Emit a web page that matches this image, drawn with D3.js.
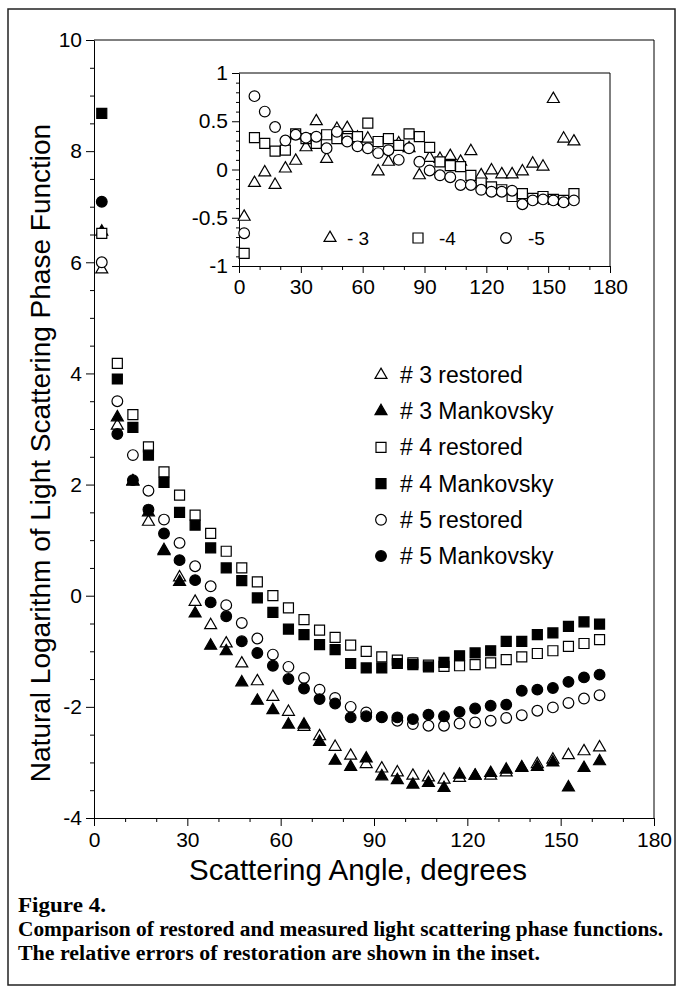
<!DOCTYPE html>
<html>
<head>
<meta charset="utf-8">
<script src="https://cdn.jsdelivr.net/npm/d3@7"></script>
<style>
  body { margin: 0; background: #fff; }
  svg text { font-family: "Liberation Sans", Arial, Helvetica, sans-serif; fill: #000; }
  .caption { font-family: "Liberation Serif", "Times New Roman", serif; font-weight: bold; font-size: 20px; }
</style>
</head>
<body>
<svg id="chart" width="681" height="994"></svg>
<script>
// scattering angles (degrees)
const angles = [2.5, 7.5, 12.5, 17.5, 22.5, 27.5, 32.5, 37.5, 42.5, 47.5, 52.5, 57.5, 62.5, 67.5, 72.5, 77.5,
  82.5, 87.5, 92.5, 97.5, 102.5, 107.5, 112.5, 117.5, 122.5, 127.5, 132.5, 137.5, 142.5, 147.5, 152.5, 157.5, 162.5];

// ln of phase function, main plot
const restored3 = [5.87, 3.06, 2.05, 1.33, 0.82, 0.33, -0.11, -0.53, -0.86, -1.22, -1.54, -1.82, -2.09, -2.36, -2.53, -2.72,
  -2.88, -3.03, -3.11, -3.18, -3.24, -3.27, -3.31, -3.28, -3.24, -3.24, -3.18, -3.10, -3.03, -2.95, -2.87, -2.80, -2.73];
const mank3 = [6.55, 3.21, 2.06, 1.50, 0.80, 0.25, -0.32, -0.90, -1.00, -1.56, -1.89, -2.06, -2.32, -2.32, -2.63, -2.97,
  -3.08, -2.93, -3.25, -3.32, -3.40, -3.37, -3.46, -3.22, -3.24, -3.19, -3.13, -3.09, -3.08, -3.00, -3.45, -3.10, -2.98];
const restored4 = [6.52, 4.18, 3.26, 2.68, 2.23, 1.81, 1.45, 1.12, 0.80, 0.50, 0.25, 0.00, -0.22, -0.43, -0.62, -0.75,
  -0.89, -1.00, -1.10, -1.16, -1.21, -1.25, -1.27, -1.26, -1.24, -1.21, -1.15, -1.10, -1.04, -0.99, -0.91, -0.86, -0.79];
const mank4 = [8.68, 3.90, 3.03, 2.53, 2.04, 1.50, 1.27, 0.86, 0.50, 0.27, -0.04, -0.30, -0.60, -0.70, -0.88, -0.97,
  -1.22, -1.30, -1.30, -1.22, -1.24, -1.28, -1.20, -1.08, -1.03, -0.99, -0.82, -0.82, -0.70, -0.67, -0.55, -0.47, -0.51];
const restored5 = [6.00, 3.50, 2.53, 1.89, 1.37, 0.95, 0.53, 0.17, -0.17, -0.49, -0.77, -1.06, -1.28, -1.48, -1.69, -1.84,
  -2.00, -2.10, -2.18, -2.25, -2.31, -2.34, -2.34, -2.30, -2.28, -2.25, -2.20, -2.15, -2.07, -2.01, -1.93, -1.85, -1.79];
const mank5 = [7.09, 2.91, 2.08, 1.55, 1.12, 0.64, 0.28, -0.12, -0.37, -0.82, -1.03, -1.26, -1.50, -1.67, -1.86, -1.94,
  -2.19, -2.17, -2.19, -2.19, -2.22, -2.14, -2.17, -2.09, -2.03, -1.98, -1.96, -1.71, -1.69, -1.66, -1.55, -1.47, -1.42];

// relative errors, inset
const err3 = [-0.49, -0.14, -0.03, -0.16, 0.01, 0.09, 0.23, 0.50, 0.11, 0.42, 0.43, 0.33, 0.32, -0.02, 0.08, 0.27,
  0.22, -0.06, 0.12, 0.11, 0.14, 0.08, 0.19, -0.06, -0.01, -0.05, -0.05, -0.02, 0.06, 0.03, 0.73, 0.32, 0.29];
const err4 = [-0.87, 0.33, 0.27, 0.19, 0.20, 0.37, 0.32, 0.27, 0.36, 0.32, 0.32, 0.34, 0.48, 0.29, 0.32, 0.25,
  0.37, 0.34, 0.23, 0.08, 0.04, 0.03, -0.06, -0.14, -0.18, -0.21, -0.28, -0.25, -0.30, -0.28, -0.31, -0.32, -0.25];
const err5 = [-0.66, 0.76, 0.60, 0.44, 0.30, 0.36, 0.33, 0.34, 0.22, 0.39, 0.29, 0.24, 0.22, 0.17, 0.20, 0.10,
  0.22, 0.08, -0.01, -0.06, -0.08, -0.16, -0.16, -0.21, -0.23, -0.23, -0.22, -0.36, -0.32, -0.31, -0.32, -0.34, -0.32];

// ticks
const xTicks = [0, 30, 60, 90, 120, 150, 180];
const xMinor = [10, 20, 40, 50, 70, 80, 100, 110, 130, 140, 160, 170];
const yTicks = [-4, -2, 0, 2, 4, 6, 8, 10];
const yMinor = [-3.5, -3, -2.5, -1.5, -1, -0.5, 0.5, 1, 1.5, 2.5, 3, 3.5, 4.5, 5, 5.5, 6.5, 7, 7.5, 8.5, 9, 9.5];
const insetYTicks = [-1, -0.5, 0, 0.5, 1];
const insetYMinor = [-0.9, -0.8, -0.7, -0.6, -0.4, -0.3, -0.2, -0.1, 0.1, 0.2, 0.3, 0.4, 0.6, 0.7, 0.8, 0.9];

const legendLabels = ["# 3 restored", "# 3 Mankovsky", "# 4 restored", "# 4 Mankovsky", "# 5 restored", "# 5 Mankovsky"];
const insetLabels = ["- 3", "-4", "-5"];
const captionLines = [
  "Figure 4.",
  "Comparison of restored and measured light scattering phase functions.",
  "The relative errors of restoration are shown in the inset."
];
const captionWidths = [88, 645, 522];

const svg = d3.select("#chart");

// outer frame of the figure
svg.append("rect")
  .attr("x", 8).attr("y", 9)
  .attr("width", 667).attr("height", 976)
  .attr("fill", "none").attr("stroke", "#222").attr("stroke-width", 1.5);

const mainSeries = [
  { values: restored3, shape: d3.symbolTriangle, filled: false },
  { values: mank3, shape: d3.symbolTriangle, filled: true },
  { values: restored4, shape: d3.symbolSquare, filled: false },
  { values: mank4, shape: d3.symbolSquare, filled: true },
  { values: restored5, shape: d3.symbolCircle, filled: false },
  { values: mank5, shape: d3.symbolCircle, filled: true }
];

function symbolSize(shape) {
  if (shape === d3.symbolSquare) return 100;
  if (shape === d3.symbolCircle) return 90;
  return 62;
}

function drawMarks(g, shape, filled, points) {
  g.selectAll(null)
    .data(points)
    .join("path")
    .attr("transform", d => `translate(${d[0]},${d[1]})`)
    .attr("d", d3.symbol().type(shape).size(symbolSize(shape)))
    .attr("fill", filled ? "#000" : "#fff")
    .attr("stroke", "#000")
    .attr("stroke-width", 1.2);
}

function styleAxis(g, fontSize) {
  g.selectAll("text").style("font-size", fontSize + "px").attr("fill", "#000");
  g.selectAll("line").attr("stroke", "#000");
  g.select(".domain").attr("stroke", "#000");
}

// ---------- main plot ----------
const x = d3.scaleLinear().domain([0, 180]).range([94, 654]);
const y = d3.scaleLinear().domain([-4, 10]).range([818, 40]);

svg.append("path")
  .attr("d", `M${x(0)},${y(10)}H${x(180)}V${y(-4)}`)
  .attr("fill", "none").attr("stroke", "#000");

const gx = svg.append("g")
  .attr("transform", `translate(0,${y(-4)})`)
  .call(d3.axisBottom(x).tickValues(xTicks).tickSize(8).tickSizeOuter(0).tickPadding(6).tickFormat(d => String(d)));
styleAxis(gx, 21);
svg.append("g")
  .attr("transform", `translate(0,${y(-4)})`)
  .call(d3.axisBottom(x).tickValues(xMinor).tickSize(4).tickFormat(""))
  .call(g => g.select(".domain").remove());

const gy = svg.append("g")
  .attr("transform", `translate(${x(0)},0)`)
  .call(d3.axisLeft(y).tickValues(yTicks).tickSize(8).tickSizeOuter(0).tickPadding(4).tickFormat(d => String(d)));
styleAxis(gy, 21);
svg.append("g")
  .attr("transform", `translate(${x(0)},0)`)
  .call(d3.axisLeft(y).tickValues(yMinor).tickSize(4).tickFormat(""))
  .call(g => g.select(".domain").remove());

svg.append("text")
  .attr("x", 358)
  .attr("y", 880)
  .attr("text-anchor", "middle")
  .style("font-size", "29.5px")
  .text("Scattering Angle, degrees");

svg.append("text")
  .attr("transform", "translate(50,453) rotate(-90)")
  .attr("text-anchor", "middle")
  .style("font-size", "28px")
  .text("Natural Logarithm of Light Scattering Phase Function");

const marks = svg.append("g");
mainSeries.forEach(s => {
  drawMarks(marks, s.shape, s.filled, angles.map((a, i) => [x(a), y(s.values[i])]));
});

// legend
const legend = svg.append("g");
legendLabels.forEach((label, i) => {
  const s = mainSeries[i];
  const ly = 375 + i * 36.2;
  drawMarks(legend, s.shape, s.filled, [[381, ly]]);
  legend.append("text")
    .attr("x", 400).attr("y", ly)
    .attr("dy", "0.35em")
    .style("font-size", "23px")
    .text(label);
});

// ---------- inset ----------
const xi = d3.scaleLinear().domain([0, 180]).range([239, 610]);
const yi = d3.scaleLinear().domain([-1, 1]).range([266, 73]);

svg.append("path")
  .attr("d", `M${xi(0)},${yi(1)}H${xi(180)}V${yi(-1)}`)
  .attr("fill", "none").attr("stroke", "#000");

const gxi = svg.append("g")
  .attr("transform", `translate(0,${yi(-1)})`)
  .call(d3.axisBottom(xi).tickValues(xTicks).tickSize(7).tickSizeOuter(0).tickPadding(6).tickFormat(d => String(d)));
styleAxis(gxi, 21);
svg.append("g")
  .attr("transform", `translate(0,${yi(-1)})`)
  .call(d3.axisBottom(xi).tickValues(xMinor).tickSize(4).tickFormat(""))
  .call(g => g.select(".domain").remove());

const gyi = svg.append("g")
  .attr("transform", `translate(${xi(0)},0)`)
  .call(d3.axisLeft(yi).tickValues(insetYTicks).tickSize(7).tickSizeOuter(0).tickPadding(4).tickFormat(d => String(d)));
styleAxis(gyi, 21);
svg.append("g")
  .attr("transform", `translate(${xi(0)},0)`)
  .call(d3.axisLeft(yi).tickValues(insetYMinor).tickSize(3).tickFormat(""))
  .call(g => g.select(".domain").remove());

const insetSeries = [
  { values: err3, shape: d3.symbolTriangle },
  { values: err4, shape: d3.symbolSquare },
  { values: err5, shape: d3.symbolCircle }
];
const insetMarks = svg.append("g");
insetSeries.forEach(s => {
  drawMarks(insetMarks, s.shape, false, angles.map((a, i) => [xi(a), yi(s.values[i])]));
});

// inset legend
const insetLegendX = [330, 418, 506];
const insetTextX = [347, 439, 528];
insetLabels.forEach((label, i) => {
  drawMarks(insetMarks, insetSeries[i].shape, false, [[insetLegendX[i], 238]]);
  svg.append("text")
    .attr("x", insetTextX[i]).attr("y", 238)
    .attr("dy", "0.35em")
    .style("font-size", "19px")
    .text(label);
});

// ---------- caption ----------
svg.selectAll(".caption")
  .data(captionLines)
  .join("text")
  .attr("class", "caption")
  .attr("x", 18)
  .attr("y", (d, i) => 912 + i * 24)
  .attr("textLength", (d, i) => captionWidths[i])
  .attr("lengthAdjust", "spacingAndGlyphs")
  .text(d => d);
</script>
</body>
</html>
